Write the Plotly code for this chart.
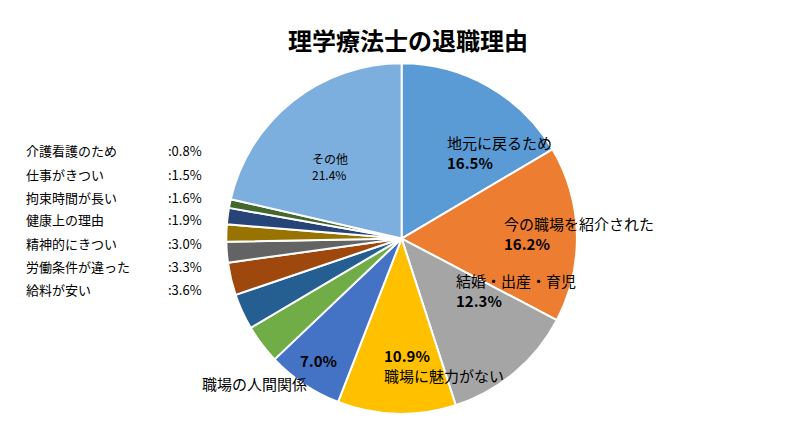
import plotly.graph_objects as go

labels = ["地元に戻るため", "今の職場を紹介された", "結婚・出産・育児", "職場に魅力がない",
          "職場の人間関係", "給料が安い", "労働条件が違った", "精神的にきつい",
          "健康上の理由", "拘束時間が長い", "仕事がきつい", "介護看護のため", "その他"]
values = [16.5, 16.2, 12.3, 10.9, 7.0, 3.6, 3.3, 3.0, 1.9, 1.6, 1.5, 0.8, 21.4]
colors = ["#5B9BD5", "#ED7D31", "#A5A5A5", "#FFC000", "#4472C4", "#70AD47", "#255E91",
          "#9E480E", "#636363", "#997300", "#264478", "#43682B", "#7CAFDD"]

fnt = "Noto Sans CJK JP"

fig = go.Figure(go.Pie(
    labels=labels, values=values, sort=False, direction="clockwise", rotation=0,
    marker=dict(colors=colors, line=dict(color="white", width=2)),
    textinfo="none", hoverinfo="label+percent",
    domain=dict(x=[0.272, 0.712], y=[0.045, 0.87]), showlegend=False,
))

# labels placed in paper coordinates (x, y, text, size, anchor)
notes = [
    (0.546, 0.713, "地元に戻るため<br><b>16.5%</b>", 15, "left"),
    (0.617, 0.47, "今の職場を紹介された<br><b>16.2%</b>", 15, "left"),
    (0.557, 0.282, "結婚・出産・育児<br><b>12.3%</b>", 15, "left"),
    (0.468, 0.106, "<b>10.9%</b><br>職場に魅力がない", 15, "left"),
    (0.362, 0.141, "<b>7.0%</b>", 15, "left"),
    (0.24, 0.087, "職場の人間関係", 15, "left"),
    (0.4025, 0.628, "その他<br>21.4%", 12, "center"),
]
for x, y, t, s, a in notes:
    fig.add_annotation(x=x, y=y, xref="paper", yref="paper", text=t, showarrow=False,
                       xanchor=a, font=dict(family=fnt, size=s, color="black"), align="left")

small = list(zip(labels[5:12], values[5:12]))[::-1]
for i, (lab, v) in enumerate(small):
    y = 1 - (143 + i * 23) / 425
    fig.add_annotation(x=0.02, y=y, xref="paper", yref="paper", text=lab, showarrow=False,
                       xanchor="left", font=dict(family=fnt, size=13, color="black"))
    fig.add_annotation(x=0.245, y=y, xref="paper", yref="paper", text=f":{v:.1f}%",
                       showarrow=False, xanchor="right", font=dict(family=fnt, size=13, color="black"))

fig.update_layout(
    width=800, height=425, margin=dict(l=0, r=0, t=0, b=0),
    paper_bgcolor="white",
    title=dict(text="<b>理学療法士の退職理由</b>", x=0.5, y=0.94, xanchor="center",
               font=dict(family=fnt, size=24, color="black")),
)
fig.write_html("out.html")
